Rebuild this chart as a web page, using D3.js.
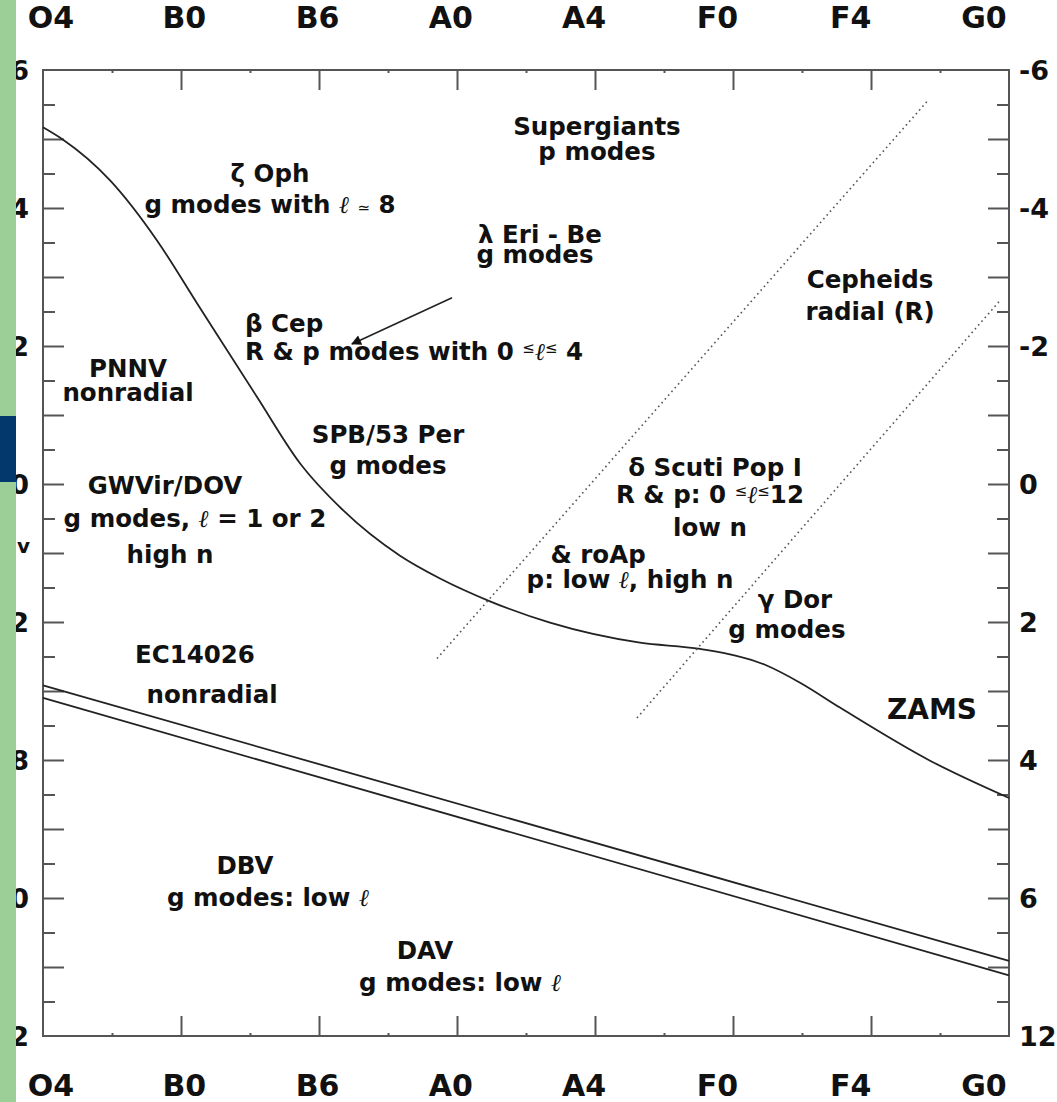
<!DOCTYPE html>
<html>
<head>
<meta charset="utf-8">
<script src="https://cdn.jsdelivr.net/npm/d3@7"></script>
<style>
body { margin: 0; background: #fff; }
text { font-family: "DejaVu Sans", sans-serif; font-weight: bold; fill: #111; }
.ell { font-family: "DejaVu Serif", serif; font-style: italic; font-weight: normal; }
.axis path, .axis line { stroke: #555; stroke-width: 2; }
</style>
</head>
<body>
<svg id="chart"></svg>
<script>
// spectral type along x (index), absolute magnitude Mv along y
var spectralTypes = ["O4", "B0", "B6", "A0", "A4", "F0", "F4", "G0"];
var magTicks = [-6, -4, -2, 0, 2, 4, 6, 8];
var rightLabels = ["-6", "-4", "-2", "0", "2", "4", "6", "12"];
var leftLabels = ["-6", "-4", "-2", "0", "2", "8", "10", "12"];

var zamsType = [0, 0.138, 0.486, 0.826, 1.116, 1.551, 1.862, 2.174, 2.587, 2.877, 3.239, 3.674, 4.326, 4.761, 5.232, 5.486, 5.775, 6.428, 7.0];
var zamsMv   = [-5.17, -5.0, -4.40, -3.53, -2.62, -1.26, -0.30, 0.38, 1.04, 1.37, 1.70, 2.01, 2.30, 2.39, 2.62, 2.88, 3.24, 4.01, 4.55];

var wdUpperType = [0, 7], wdUpperMv = [2.92, 6.91];
var wdLowerType = [0, 7], wdLowerMv = [3.10, 7.12];

var blueEdgeType = [2.855, 6.413], blueEdgeMv = [2.53, -5.56];
var redEdgeType = [4.304, 6.935], redEdgeMv = [3.39, -2.66];

var arrowType = [2.964, 2.239], arrowMv = [-2.70, -2.03];

var labelType = [4.014, 4.014, 1.645, 1.645, 3.601, 3.565, 1.464, 1.464, 0.616, 0.616, 2.5, 2.5, 0.884, 1.101, 0.920,
                 4.870, 4.833, 4.833, 4.022, 4.254, 5.993, 5.993, 5.449, 5.391, 1.101, 1.225, 6.442, 1.464, 1.630, 2.768, 3.022];
var labelMv   = [-5.06, -4.69, -4.38, -3.93, -3.49, -3.20, -2.21, -1.79, -1.55, -1.21, -0.59, -0.14, 0.14, 0.63, 1.14,
                 -0.12, 0.28, 0.75, 1.14, 1.50, -2.84, -2.37, 1.79, 2.23, 2.60, 3.18, 3.40, 5.65, 6.11, 6.88, 7.35];
var labelText = ["Supergiants", "p modes", "\u03b6 Oph", "g modes with \u2113 \u2243 8", "\u03bb Eri - Be", "g modes",
                 "\u03b2 Cep", "R & p modes with 0 \u2264\u2113\u2264 4", "PNNV", "nonradial", "SPB/53 Per", "g modes",
                 "GWVir/DOV", "g modes, \u2113 = 1 or 2", "high n",
                 "\u03b4 Scuti Pop I", "R & p: 0 \u2264\u2113\u226412", "low  n", "& roAp", "p: low \u2113, high n",
                 "Cepheids", "radial (R)", "\u03b3 Dor", "g modes", "EC14026", "nonradial", "ZAMS",
                 "DBV", "g modes: low \u2113", "DAV", "g modes: low \u2113"];
var labelAnchor = ["middle", "middle", "middle", "middle", "middle", "middle", "start", "start", "middle", "middle", "middle", "middle",
                   "middle", "middle", "middle", "middle", "middle", "middle", "middle", "middle", "middle", "middle",
                   "middle", "middle", "middle", "middle", "middle", "middle", "middle", "middle", "middle"];

var width = 1057, height = 1102;
var plotLeft = 43, plotRight = 1009, plotTop = 70, plotBottom = 1036;

var svg = d3.select("#chart")
.attr("width", width)
.attr("height", height);

svg.append("rect")
.attr("width", width)
.attr("height", height)
.attr("fill", "#fff");

var x = d3.scaleLinear().domain([0, 7]).range([plotLeft, plotRight]);
var y = d3.scaleLinear().domain([-6, 8]).range([plotTop, plotBottom]);
var xLabel = d3.scalePoint().domain(spectralTypes).range([51, 984]);

var majorX = d3.range(1, 7);
var minorX = d3.range(0.5, 7, 1);
var majorY = d3.range(-5, 8, 1);
var minorY = d3.range(-5.5, 8, 1);

function addAxis(axis, tr) {
	svg.append("g")
	.attr("class", "axis")
	.attr("transform", tr)
	.call(axis)
	.call(function(g) { g.select(".domain").remove(); g.selectAll("text").remove(); });
}

addAxis(d3.axisTop(x).tickValues(majorX).tickSize(-20), "translate(0," + plotTop + ")");
addAxis(d3.axisTop(x).tickValues(minorX).tickSize(-3), "translate(0," + plotTop + ")");
addAxis(d3.axisBottom(x).tickValues(majorX).tickSize(-20), "translate(0," + plotBottom + ")");
addAxis(d3.axisBottom(x).tickValues(minorX).tickSize(-3), "translate(0," + plotBottom + ")");
addAxis(d3.axisLeft(y).tickValues(majorY).tickSize(-21), "translate(" + plotLeft + ",0)");
addAxis(d3.axisLeft(y).tickValues(minorY).tickSize(-12), "translate(" + plotLeft + ",0)");
addAxis(d3.axisRight(y).tickValues(majorY).tickSize(-21), "translate(" + plotRight + ",0)");
addAxis(d3.axisRight(y).tickValues(minorY).tickSize(-12), "translate(" + plotRight + ",0)");

svg.append("rect")
.attr("x", plotLeft)
.attr("y", plotTop)
.attr("width", plotRight - plotLeft)
.attr("height", plotBottom - plotTop)
.attr("fill", "none")
.attr("stroke", "#555")
.attr("stroke-width", 2);

// spectral type labels, top and bottom
spectralTypes.forEach(function(s) {
	[28, 1096].forEach(function(by) {
		svg.append("text")
		.attr("x", xLabel(s))
		.attr("y", by)
		.attr("text-anchor", "middle")
		.attr("font-size", 30)
		.text(s);
	});
});

magTicks.forEach(function(m, i) {
	svg.append("text")
	.attr("x", plotRight + 10)
	.attr("y", y(m))
	.attr("dy", "0.36em")
	.attr("font-size", 27)
	.text(rightLabels[i]);
	svg.append("text")
	.attr("x", 29)
	.attr("y", y(m))
	.attr("dy", "0.36em")
	.attr("text-anchor", "end")
	.attr("font-size", 27)
	.text(leftLabels[i]);
});

var mv = svg.append("text")
.attr("x", 30)
.attr("y", y(1))
.attr("text-anchor", "end")
.attr("font-size", 24)
.text("M");
mv.append("tspan").attr("font-size", 20).text("v");

// lines
var line = d3.line()
.x(function(d) { return x(d[0]); })
.y(function(d) { return y(d[1]); });

svg.append("path")
.datum(d3.zip(zamsType, zamsMv))
.attr("d", line.curve(d3.curveMonotoneX))
.attr("fill", "none")
.attr("stroke", "#222")
.attr("stroke-width", 1.8);

line.curve(d3.curveLinear);

[[wdUpperType, wdUpperMv], [wdLowerType, wdLowerMv]].forEach(function(p) {
	svg.append("path")
	.datum(d3.zip(p[0], p[1]))
	.attr("d", line)
	.attr("fill", "none")
	.attr("stroke", "#222")
	.attr("stroke-width", 1.8);
});

[[blueEdgeType, blueEdgeMv], [redEdgeType, redEdgeMv]].forEach(function(p) {
	svg.append("path")
	.datum(d3.zip(p[0], p[1]))
	.attr("d", line)
	.attr("fill", "none")
	.attr("stroke", "#555")
	.attr("stroke-width", 1.6)
	.attr("stroke-dasharray", "1.6,3.4");
});

svg.append("defs").append("marker")
.attr("id", "head")
.attr("viewBox", "0 0 10 10")
.attr("refX", 9)
.attr("refY", 5)
.attr("markerWidth", 16)
.attr("markerHeight", 10)
.attr("markerUnits", "userSpaceOnUse")
.attr("orient", "auto")
.append("path")
.attr("d", "M0,0 L10,5 L0,10 Z")
.attr("fill", "#111");

svg.append("path")
.datum(d3.zip(arrowType, arrowMv))
.attr("d", line)
.attr("stroke", "#222")
.attr("stroke-width", 1.6)
.attr("marker-end", "url(#head)");

// annotations: ell is italic, "<=" signs sit raised and small
function addLabel(i) {
	var t = svg.append("text")
	.attr("x", x(labelType[i]))
	.attr("y", y(labelMv[i]))
	.attr("text-anchor", labelAnchor[i])
	.attr("font-size", labelText[i] === "ZAMS" ? 28 : 24.5);
	var buf = "";
	var back = 0;
	function span() {
		var s = t.append("tspan");
		if (back) { s.attr("dy", back); back = 0; }
		return s;
	}
	function flush() { if (buf) { span().text(buf); buf = ""; } }
	Array.from(labelText[i]).forEach(function(c) {
		if (c === "\u2113") {
			flush();
			span().attr("class", "ell").attr("font-size", 24).text(c);
		} else if (c === "\u2264") {
			flush();
			span().attr("font-size", 15).attr("font-weight", "normal").attr("dy", -7).text(c);
			back = 7;
		} else if (c === "\u2243") {
			flush();
			span().attr("font-size", 15).attr("font-weight", "normal").text(c);
		} else {
			buf += c;
		}
	});
	flush();
}
labelText.forEach(function(d, i) { addLabel(i); });

// page side strip
svg.append("rect")
.attr("x", 0).attr("y", 0)
.attr("width", 16).attr("height", height)
.attr("fill", "#9ccf97");
svg.append("rect")
.attr("x", 0).attr("y", 416)
.attr("width", 16).attr("height", 66)
.attr("fill", "#02386b");
</script>
</body>
</html>
